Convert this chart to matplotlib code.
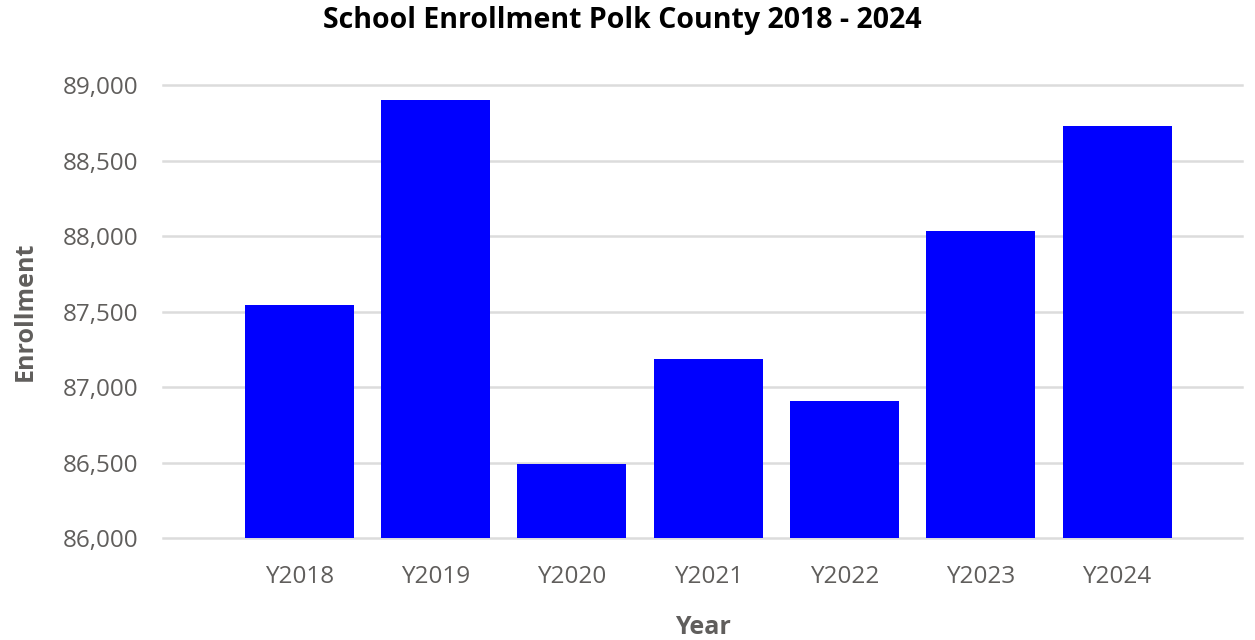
import matplotlib.pyplot as plt
from matplotlib.ticker import FuncFormatter

years = ["Y2018", "Y2019", "Y2020", "Y2021", "Y2022", "Y2023", "Y2024"]
enrollment = [87543, 88900, 86490, 87185, 86907, 88033, 88728]
yticks = [86000, 86500, 87000, 87500, 88000, 88500, 89000]

plt.rcParams['font.family'] = ['Open Sans', 'DejaVu Sans']

fig = plt.figure(figsize=(12.55, 6.4), dpi=100)
ax = fig.add_axes([0.130, 0.159, 0.860, 0.708])

x = range(len(years))
ax.bar(x, enrollment, width=0.8, color="#0000ff", zorder=3)

ax.set_xlim(-1, 6.92)
ax.set_ylim(86000, 89000)
ax.set_yticks(yticks)
ax.yaxis.set_major_formatter(FuncFormatter(lambda v, p: f"{int(v):,}"))
ax.set_xticks(list(x))
ax.set_xticklabels(years)
ax.grid(axis="y", color="#dcdcdc", linewidth=1.8, zorder=0)
for gl in ax.get_ygridlines():
    gl.set_clip_on(False)
ax.tick_params(length=0, labelsize=17.5, labelcolor="#605e5c")
ax.tick_params(axis="x", pad=19)
ax.tick_params(axis="y", pad=18)

for s in ax.spines.values():
    s.set_visible(False)

fig.text(0.496, 0.968, "School Enrollment Polk County 2018 - 2024", fontsize=20.5,
         fontweight="bold", ha="center", va="center")
ax.set_xlabel("Year", fontsize=18, fontweight="bold", color="#605e5c", labelpad=19)
ax.set_ylabel("Enrollment", fontsize=18, fontweight="bold", color="#605e5c", labelpad=18)

fig.savefig("out.png")
